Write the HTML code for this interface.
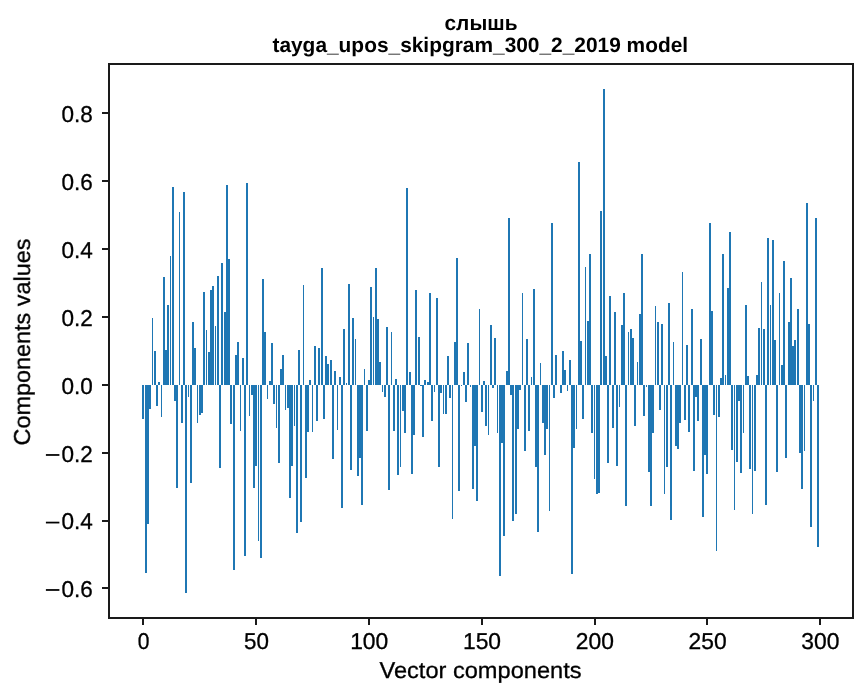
<!DOCTYPE html>
<html><head><meta charset="utf-8"><title>chart</title>
<style>html,body{margin:0;padding:0;background:#fff;width:867px;height:696px;overflow:hidden;font-family:"Liberation Sans",sans-serif}</style>
</head><body>
<svg width="867" height="696" viewBox="0 0 867 696" style="position:absolute;left:0;top:0">
<rect x="0" y="0" width="867" height="696" fill="#ffffff"/>
<path d="M142 385H144V419H142ZM145 385H147V573H145ZM147 385H149V524H147ZM149 385H151V409H149ZM152 318H153V385H152ZM154 351H156V385H154ZM156 385H158V406H156ZM158 382H160V385H158ZM161 385H162V417H161ZM163 277H165V385H163ZM165 350H167V385H165ZM167 305H169V385H167ZM170 256H171V385H170ZM172 187H174V385H172ZM174 385H176V401H174ZM176 385H178V488H176ZM179 212H180V385H179ZM181 385H183V423H181ZM183 192H185V385H183ZM185 385H187V593H185ZM188 385H189V397H188ZM190 385H192V483H190ZM192 322H194V385H192ZM194 348H196V385H194ZM197 385H198V423H197ZM199 385H201V415H199ZM201 385H203V413H201ZM203 292H205V385H203ZM206 330H207V385H206ZM208 352H210V385H208ZM210 290H212V385H210ZM212 286H214V385H212ZM215 326H216V385H215ZM217 276H219V385H217ZM219 385H221V468H219ZM221 263H223V385H221ZM224 312H226V385H224ZM226 185H228V385H226ZM228 259H230V385H228ZM230 385H232V424H230ZM233 385H235V570H233ZM235 355H237V385H235ZM237 342H239V385H237ZM240 385H241V431H240ZM242 358H244V385H242ZM244 385H246V556H244ZM246 183H248V385H246ZM249 385H250V416H249ZM251 385H253V395H251ZM253 385H255V488H253ZM255 385H257V466H255ZM258 385H259V541H258ZM260 385H262V558H260ZM262 279H264V385H262ZM264 332H266V385H264ZM267 385H268V399H267ZM269 381H271V385H269ZM271 343H273V385H271ZM273 385H275V404H273ZM276 385H277V428H276ZM278 385H280V463H278ZM280 369H282V385H280ZM282 355H284V385H282ZM285 385H286V410H285ZM287 385H289V408H287ZM289 385H291V498H289ZM291 385H293V466H291ZM294 385H295V426H294ZM296 385H298V533H296ZM298 350H300V385H298ZM300 385H302V522H300ZM303 285H304V385H303ZM305 385H307V478H305ZM307 385H309V432H307ZM309 380H311V385H309ZM312 385H313V432H312ZM314 346H316V385H314ZM316 385H318V421H316ZM318 348H320V385H318ZM321 268H323V385H321ZM323 385H325V419H323ZM325 356H327V385H325ZM327 364H329V385H327ZM330 360H332V385H330ZM332 385H334V459H332ZM334 371H336V385H334ZM337 385H338V430H337ZM339 377H341V385H339ZM341 385H343V508H341ZM343 329H345V385H343ZM346 383H347V385H346ZM348 284H350V385H348ZM350 385H352V470H350ZM352 318H354V385H352ZM355 339H356V385H355ZM357 385H359V476H357ZM359 385H361V458H359ZM361 385H363V505H361ZM364 369H365V385H364ZM366 385H368V431H366ZM368 380H370V385H368ZM370 287H372V385H370ZM373 317H374V385H373ZM375 268H377V385H375ZM377 319H379V385H377ZM379 362H381V385H379ZM382 385H383V392H382ZM384 385H386V397H384ZM386 327H388V385H386ZM388 385H390V490H388ZM391 332H392V385H391ZM393 385H395V431H393ZM395 379H397V385H395ZM397 385H399V475H397ZM400 385H401V467H400ZM402 385H404V411H402ZM404 385H406V433H404ZM406 188H408V385H406ZM409 372H411V385H409ZM411 385H413V474H411ZM413 385H415V435H413ZM415 290H417V385H415ZM418 337H420V385H418ZM420 385H422V386H420ZM422 385H424V437H422ZM424 380H426V385H424ZM427 382H429V385H427ZM429 293H431V385H429ZM431 385H433V421H431ZM434 385H435V392H434ZM436 298H438V385H436ZM438 385H440V467H438ZM440 385H442V393H440ZM443 385H444V414H443ZM445 385H447V414H445ZM447 356H449V385H447ZM449 385H451V398H449ZM452 385H453V519H452ZM454 342H456V385H454ZM456 258H458V385H456ZM458 385H460V491H458ZM461 385H462V386H461ZM463 372H465V385H463ZM465 385H467V402H465ZM467 343H469V385H467ZM470 385H471V387H470ZM472 385H474V489H472ZM474 385H476V446H474ZM476 385H478V501H476ZM479 309H480V385H479ZM481 385H483V412H481ZM483 381H485V385H483ZM485 385H487V426H485ZM488 385H489V435H488ZM490 325H492V385H490ZM492 385H494V388H492ZM494 338H496V385H494ZM497 385H498V433H497ZM499 385H501V576H499ZM501 385H503V443H501ZM503 385H505V536H503ZM506 371H508V385H506ZM508 218H510V385H508ZM510 385H512V395H510ZM512 385H514V521H512ZM515 385H517V514H515ZM517 385H519V429H517ZM519 385H521V390H519ZM522 293H523V385H522ZM524 385H526V451H524ZM526 339H528V385H526ZM528 385H530V431H528ZM531 377H532V385H531ZM533 289H535V385H533ZM535 385H537V467H535ZM537 385H539V532H537ZM540 363H541V385H540ZM542 385H544V423H542ZM544 385H546V455H544ZM546 385H548V429H546ZM549 385H550V511H549ZM551 223H553V385H551ZM553 385H555V398H553ZM555 355H557V385H555ZM560 385H562V393H560ZM562 351H564V385H562ZM564 370H566V385H564ZM567 385H568V391H567ZM569 360H571V385H569ZM571 385H573V574H571ZM573 385H575V448H573ZM576 385H577V429H576ZM578 162H580V385H578ZM580 341H582V385H580ZM582 385H584V419H582ZM585 267H586V385H585ZM587 321H589V385H587ZM589 254H591V385H589ZM591 385H593V433H591ZM594 385H595V479H594ZM596 385H598V494H596ZM598 385H600V493H598ZM600 211H602V385H600ZM603 89H605V385H603ZM605 356H607V385H605ZM607 385H609V463H607ZM609 296H611V385H609ZM612 385H614V428H612ZM614 312H616V385H614ZM616 385H618V466H616ZM619 385H620V407H619ZM621 325H623V385H621ZM623 293H625V385H623ZM625 385H627V506H625ZM628 332H629V385H628ZM630 329H632V385H630ZM632 338H634V385H632ZM634 385H636V426H634ZM637 362H638V385H637ZM639 314H641V385H639ZM641 254H643V385H641ZM643 385H645V416H643ZM646 385H647V387H646ZM648 385H650V472H648ZM650 385H652V506H650ZM652 385H654V433H652ZM655 306H656V385H655ZM657 322H659V385H657ZM659 385H661V410H659ZM661 324H663V385H661ZM664 385H665V494H664ZM666 385H668V467H666ZM668 303H670V385H668ZM670 385H672V520H670ZM673 342H674V385H673ZM675 385H677V446H675ZM677 385H679V449H677ZM679 385H681V423H679ZM682 272H683V385H682ZM684 385H686V420H684ZM686 345H688V385H686ZM688 385H690V432H688ZM691 309H693V385H691ZM693 385H695V471H693ZM695 385H697V397H695ZM697 385H699V421H697ZM700 339H702V385H700ZM702 385H704V517H702ZM704 385H706V455H704ZM706 385H708V474H706ZM709 223H711V385H709ZM711 311H713V385H711ZM713 385H715V415H713ZM716 385H717V551H716ZM718 385H720V417H718ZM720 378H722V385H720ZM722 254H724V385H722ZM725 375H726V385H725ZM727 288H729V385H727ZM729 232H731V385H729ZM731 385H733V450H731ZM734 385H735V510H734ZM736 385H738V462H736ZM738 385H740V401H738ZM740 385H742V473H740ZM743 385H744V433H743ZM745 305H747V385H745ZM747 376H749V385H747ZM749 385H751V469H749ZM752 385H753V514H752ZM754 385H756V471H754ZM756 375H758V385H756ZM758 328H760V385H758ZM761 282H762V385H761ZM763 329H765V385H763ZM765 385H767V505H765ZM767 238H769V385H767ZM770 305H771V385H770ZM772 240H774V385H772ZM774 340H776V385H774ZM776 385H778V472H776ZM779 293H780V385H779ZM781 365H783V385H781ZM783 261H785V385H783ZM785 385H787V458H785ZM788 322H790V385H788ZM790 278H792V385H790ZM792 346H794V385H792ZM794 340H796V385H794ZM797 309H799V385H797ZM799 385H801V453H799ZM801 385H803V489H801ZM804 385H805V451H804ZM806 203H808V385H806ZM808 324H810V385H808ZM810 385H812V527H810ZM813 385H814V401H813ZM815 218H817V385H815ZM817 385H819V547H817Z" fill="#1f77b4" shape-rendering="crispEdges"/>
<g fill="#1a1a1a" shape-rendering="crispEdges">
<rect x="108" y="63" width="2" height="556"/>
<rect x="852" y="63" width="2" height="556"/>
<rect x="108" y="63" width="746" height="2"/>
<rect x="108" y="617" width="746" height="2"/>
<rect x="142" y="619" width="2" height="6"/>
<rect x="255" y="619" width="2" height="6"/>
<rect x="368" y="619" width="2" height="6"/>
<rect x="481" y="619" width="2" height="6"/>
<rect x="594" y="619" width="2" height="6"/>
<rect x="706" y="619" width="2" height="6"/>
<rect x="819" y="619" width="2" height="6"/>
<rect x="102" y="112" width="6" height="2"/>
<rect x="102" y="180" width="6" height="2"/>
<rect x="102" y="248" width="6" height="2"/>
<rect x="102" y="316" width="6" height="2"/>
<rect x="102" y="384" width="6" height="2"/>
<rect x="102" y="452" width="6" height="2"/>
<rect x="102" y="520" width="6" height="2"/>
<rect x="102" y="587" width="6" height="2"/>
</g>
<g font-family="Liberation Sans, sans-serif" fill="#000" stroke="#000" stroke-width="0.3" text-rendering="geometricPrecision" font-size="22.9px" style="will-change:transform">
<text x="143.6" y="649.2" text-anchor="middle" textLength="11.7" lengthAdjust="spacingAndGlyphs">0</text>
<text x="256.4" y="649.2" text-anchor="middle" textLength="24.9" lengthAdjust="spacingAndGlyphs">50</text>
<text x="369.2" y="649.2" text-anchor="middle" textLength="38.1" lengthAdjust="spacingAndGlyphs">100</text>
<text x="482.0" y="649.2" text-anchor="middle" textLength="38.1" lengthAdjust="spacingAndGlyphs">150</text>
<text x="594.8" y="649.2" text-anchor="middle" textLength="38.1" lengthAdjust="spacingAndGlyphs">200</text>
<text x="707.6" y="649.2" text-anchor="middle" textLength="38.1" lengthAdjust="spacingAndGlyphs">250</text>
<text x="820.4" y="649.2" text-anchor="middle" textLength="38.1" lengthAdjust="spacingAndGlyphs">300</text>
<text x="61.4" y="121.6" textLength="31.3" lengthAdjust="spacingAndGlyphs">0.8</text>
<text x="61.4" y="189.6" textLength="31.3" lengthAdjust="spacingAndGlyphs">0.6</text>
<text x="61.4" y="257.6" textLength="31.3" lengthAdjust="spacingAndGlyphs">0.4</text>
<text x="61.4" y="325.6" textLength="31.3" lengthAdjust="spacingAndGlyphs">0.2</text>
<text x="61.4" y="393.6" textLength="31.3" lengthAdjust="spacingAndGlyphs">0.0</text>
<text x="61.4" y="461.6" textLength="31.3" lengthAdjust="spacingAndGlyphs">0.2</text>
<rect x="45.9" y="454.10" width="13.5" height="1.75" stroke="none"/>
<text x="61.4" y="529.2" textLength="31.3" lengthAdjust="spacingAndGlyphs">0.4</text>
<rect x="45.9" y="521.70" width="13.5" height="1.75" stroke="none"/>
<text x="61.4" y="596.6" textLength="31.3" lengthAdjust="spacingAndGlyphs">0.6</text>
<rect x="45.9" y="589.10" width="13.5" height="1.75" stroke="none"/>
<text x="480.5" y="677.5" text-anchor="middle" textLength="202" lengthAdjust="spacingAndGlyphs">Vector components</text>
<text transform="translate(29.9,342) rotate(-90)" text-anchor="middle" textLength="207" lengthAdjust="spacingAndGlyphs">Components values</text>
</g>
<g font-family="Liberation Sans, sans-serif" fill="#000" font-size="20.9px" font-weight="bold" text-anchor="middle" text-rendering="geometricPrecision" style="will-change:transform">
<text x="481" y="29.9">слышь</text>
<text x="480.3" y="51.6">tayga_upos_skipgram_300_2_2019 model</text>
</g>
</svg>
</body></html>
